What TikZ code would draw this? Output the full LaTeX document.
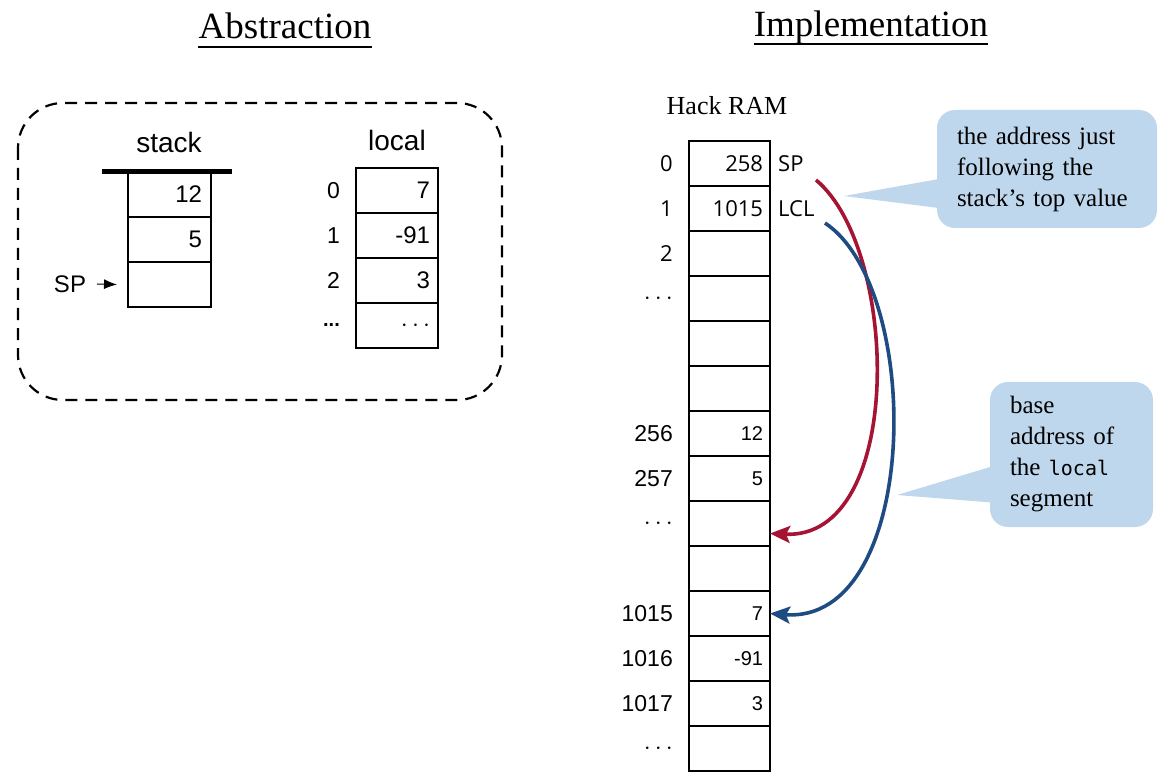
\documentclass[tikz,border=0pt]{standalone}
\usepackage{fontspec}
\setmainfont{Liberation Serif}
\setsansfont{Liberation Sans}
\setmonofont{DejaVu Sans Mono}
\newfontfamily\osans{Open Sans}
\usetikzlibrary{arrows.meta,positioning,calc}

\definecolor{ptrred}{RGB}{165,20,50}
\definecolor{ptrblue}{RGB}{30,75,130}
\definecolor{callfill}{RGB}{190,215,237}

\tikzset{
  cell/.style={draw,line width=1.6pt,outer sep=0pt,minimum height=45pt,
    inner ysep=0pt,align=right},
  stackcell/.style={cell,inner xsep=9pt,text width=65pt,
    font=\fontsize{24}{28}\selectfont\sffamily},
  localcell/.style={cell,inner xsep=8pt,text width=66pt,
    font=\fontsize{24}{28}\selectfont\sffamily},
  ramcell/.style={cell,inner xsep=7pt,text width=67pt,
    font=\fontsize{20}{24}\selectfont\sffamily},
  ramtop/.style={ramcell,font=\fontsize{22}{26}\selectfont\osans},
  lbl/.style={inner sep=0pt,font=\fontsize{23}{27}\selectfont\sffamily},
  toplbl/.style={inner sep=0pt,font=\fontsize{22}{26}\selectfont\osans},
  title/.style={inner sep=0pt,anchor=base,font=\fontsize{37}{42}\selectfont},
  bubble/.style={fill=callfill,rounded corners=18pt,align=left,inner xsep=20pt,
    inner ysep=0pt,font=\fontsize{25}{31}\selectfont},
  pointer/.style={line width=3.6pt,-{Stealth[length=20pt,width=17pt,inset=4pt]}}
}

\begin{document}
\begin{tikzpicture}[x=1pt,y=-1pt]
  \useasboundingbox (0,0) rectangle (1174,783);

  % Titles
  \node[title] (abs) at (285,39) {Abstraction};
  \node[title] (impl) at (871,37) {Implementation};
  \draw[line width=1.8pt] ($(abs.base west)+(0,8)$) -- ($(abs.base east)+(0,8)$);
  \draw[line width=1.8pt] ($(impl.base west)+(0,7)$) -- ($(impl.base east)+(0,7)$);

  % Abstraction frame
  \draw[line width=2.2pt,dash pattern=on 12pt off 8pt,rounded corners=45pt]
    (18,103) rectangle (502,400);

  % Stack
  \node[inner sep=0pt,anchor=base,font=\fontsize{28}{32}\selectfont\sffamily]
    (stacklbl) at (169,153) {stack};
  \foreach \i/\v in {1/12,2/5,3/} {
    \node[stackcell] (st\i) at (169.5,{149.5+45*\i}) {\v};
  }
  \draw[line width=5pt] ($(st1.north west)+(-26,0)$) -- ($(st1.north east)+(21,0)$);
  \node[lbl,font=\fontsize{24}{28}\selectfont\sffamily] (splbl) at (70,284) {SP};
  \coordinate (spend) at ($(st3.west)+(-11,0)$);
  \draw[line width=1pt,-{Latex[length=13pt,width=10pt]}] (splbl.east) ++(11,0) -- (spend);

  % Local segment
  \node[inner sep=0pt,anchor=base,font=\fontsize{28}{32}\selectfont\sffamily]
    (locallbl) at (397,151) {local};
  \foreach \i/\v in {0/7,1/-91,2/3,3/$\cdots$} {
    \node[localcell] (lo\i) at (397,{190.5+45*\i}) {\v};
  }
  \foreach \i in {0,1,2} {
    \node[lbl,left=16pt of lo\i] (loidx\i) {\i};
  }
  \node[lbl,font=\fontsize{20}{24}\selectfont\sffamily\bfseries,left=16pt of lo3]
    (loidx3) {...};

  % Hack RAM
  \node[inner sep=0pt,anchor=base,font=\fontsize{26}{30}\selectfont]
    (ramlbl) at (727,115) {Hack RAM};
  \foreach \i/\v in {0/258,1/1015} {
    \node[ramtop] (ram\i) at (729.5,{163.5+45*\i}) {\v};
  }
  \foreach \i/\v in {2/,3/,4/,5/,6/12,7/5,8/,9/,10/7,11/-91,12/3,13/} {
    \node[ramcell] (ram\i) at (729.5,{163.5+45*\i}) {\v};
  }
  \foreach \i in {0,1,2} {
    \node[toplbl,left=16pt of ram\i] (ramidx\i) {\i};
  }
  \foreach \i/\t in {6/256,7/257,10/1015,11/1016,12/1017} {
    \node[lbl,left=16pt of ram\i] (ramidx\i) {\t};
  }
  \foreach \i in {3,8,13} {
    \node[lbl,left=16pt of ram\i] (ramidx\i) {$\cdots$};
  }
  \node[toplbl,right=8pt of ram0] (spreg) {SP};
  \node[toplbl,right=8pt of ram1] (lclreg) {LCL};

  % Callouts
  \node[bubble,text width=180pt,minimum height=118pt] (callsp) at (1047,169)
    {the address just\\following the\\stack's top value};
  \coordinate (tipsp) at (844,196);
  \fill[callfill] ($(callsp.west)+(2,10)$) -- (tipsp) -- ($(callsp.west)+(2,39)$) -- cycle;

  \node[bubble,text width=123pt,minimum height=145pt] (calllcl) at (1071.5,454.5)
    {base\\address of\\the \texttt{\fontsize{20}{31}\selectfont local}\\segment};
  \coordinate (tiplcl) at (897,495);
  \fill[callfill] ($(calllcl.west)+(2,12)$) -- (tiplcl) -- ($(calllcl.west)+(2,48)$) -- cycle;

  % Pointers
  \coordinate (spstart) at (816,180);
  \coordinate (lclstart) at (825,223);
  \draw[pointer,ptrred] (spstart) .. controls (900,250) and (905,540) .. ([yshift=-10pt]ram8.east);
  \draw[pointer,ptrblue] (lclstart) .. controls (925,290) and (920,625) .. (ram10.east);
\end{tikzpicture}
\end{document}
